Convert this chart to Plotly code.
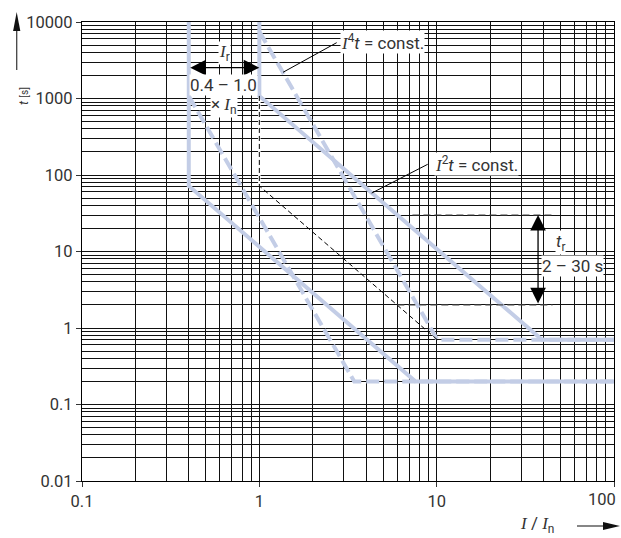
import math
import plotly.graph_objects as go

# ---------------- data ----------------
# Ir = 0.4 x In, I2t characteristic (solid)
left_solid_I = [0.4, 0.4, 7.6, 100]
left_solid_t = [10000, 72, 0.2, 0.2]
# Ir = 0.4 x In, I4t characteristic (dashed)
left_dash_I = [0.4, 3.43, 100]
left_dash_t = [1080, 0.2, 0.2]
# Ir = 1.0 x In, I2t characteristic (solid)
right_solid_I = [1.0, 1.0, 39.3, 100]
right_solid_t = [10000, 1080, 0.7, 0.7]
# Ir = 1.0 x In, I4t characteristic (dashed)
right_dash_I = [1.0, 10.1, 100]
right_dash_t = [7500, 0.7, 0.7]
# thin black reference line (tr = 2 s)
ref_I = [1.0, 1.0, 10.1]
ref_t = [1080, 72, 0.7]
# tr limit lines
tr_upper_I = [7.3, 45]
tr_upper_t = [30, 30]
tr_lower_I = [6.0, 45]
tr_lower_t = [2, 2]
# leader lines for the labels
lead4_I = [1.36, 2.73]
lead4_t = [2200, 5370]
lead2_I = [4.3, 8.9]
lead2_t = [58, 138]
# range arrows
ir_arrow_I = [0.4, 1.0]
ir_arrow_t = 2530
tr_arrow_t = [2, 30]
tr_arrow_I = 37.3

x_tickvals = [0.1, 1, 10, 100]
x_ticktext = ["0.1", "1", "10", ""]   # last label placed right-aligned below
x_last_label = "100"
y_tickvals = [0.01, 0.1, 1, 10, 100, 1000, 10000]
y_ticktext = ["0.01", "0.1", "1", "10", "100", "1000", "10000"]

x_minor = [k * 10 ** d for d in (-1, 0, 1) for k in range(2, 10)]
y_minor = [k * 10 ** d for d in (-2, -1, 0, 1, 2, 3) for k in range(2, 10)]

BLUE = "#c3cde6"
FONT = "Roboto, Liberation Sans, sans-serif"
SERIF_I = '<span style="font-family:Liberation Serif, serif"><i>I</i></span>'

# plot-area geometry (pixels) used only for decorations outside the plot
L, R, T, B = 82, 7, 22, 57
W, H = 621, 538
PW, PH = W - L - R, H - T - B


def px(xp):
    return (xp - L) / PW


def py(yp):
    return (H - B - yp) / PH


fig = go.Figure()


def line(xs, ys, color, width, dash="solid"):
    fig.add_trace(go.Scatter(x=xs, y=ys, mode="lines",
                             line=dict(color=color, width=width, dash=dash),
                             hoverinfo="skip", showlegend=False))


# white halo to hide the gridline under the dashed vertical
line(ref_I[:2], ref_t[:2], "white", 2.5)

line(left_solid_I, left_solid_t, BLUE, 4)
line(left_dash_I, left_dash_t, BLUE, 4, "13px,5px")
line(right_solid_I, right_solid_t, BLUE, 4)
line(right_dash_I, right_dash_t, BLUE, 4, "13px,5px")

line(ref_I, ref_t, "#000000", 1, "5px,3px")
line(tr_upper_I, tr_upper_t, "#444444", 1.2, "7px,4px")
line(tr_lower_I, tr_lower_t, "#444444", 1.2, "7px,4px")
line(lead4_I, lead4_t, "#000000", 1)
line(lead2_I, lead2_t, "#000000", 1)

lg = math.log10
AF = dict(size=17)

annotations = [
    # Ir double arrow
    dict(x=lg(ir_arrow_I[1]), y=lg(ir_arrow_t), ax=lg(ir_arrow_I[0]), ay=lg(ir_arrow_t),
         xref="x", yref="y", axref="x", ayref="y", text="", showarrow=True,
         arrowside="end+start", arrowhead=2, startarrowhead=2, arrowsize=2.4,
         startarrowsize=2.4, arrowwidth=1.3, arrowcolor="#000", standoff=0, startstandoff=0),
    # tr double arrow
    dict(x=lg(tr_arrow_I), y=lg(tr_arrow_t[1]), ax=lg(tr_arrow_I), ay=lg(tr_arrow_t[0]),
         xref="x", yref="y", axref="x", ayref="y", text="", showarrow=True,
         arrowside="end+start", arrowhead=2, startarrowhead=2, arrowsize=2.4,
         startarrowsize=2.4, arrowwidth=1.3, arrowcolor="#000", standoff=0, startstandoff=0),
    # labels
    dict(x=lg(4.94), y=lg(5500), xref="x", yref="y", showarrow=False, font=AF,
         text=SERIF_I + "<sup>4</sup><i>t</i> = const.", bgcolor="white", borderpad=0),
    dict(x=lg(16.85), y=lg(138), xref="x", yref="y", showarrow=False, font=AF,
         text=SERIF_I + "<sup>2</sup><i>t</i> = const.", bgcolor="white", borderpad=0),
    dict(x=lg(0.64), y=lg(3900), xref="x", yref="y", showarrow=False, font=AF,
         text=SERIF_I + "<sub>r</sub>", bgcolor="white", borderpad=0),
    dict(x=lg(0.63), y=lg(1520), xref="x", yref="y", showarrow=False, font=AF,
         text="0.4 \u2013 1.0", bgcolor="white", borderpad=0),
    dict(x=lg(0.63), y=lg(800), xref="x", yref="y", showarrow=False, font=AF,
         text="\u00d7 " + SERIF_I + "<sub>n</sub>", bgcolor="white", borderpad=0),
    dict(x=lg(50.1), y=lg(13.3), xref="x", yref="y", showarrow=False, font=AF,
         text="<i>t</i><sub>r</sub>", bgcolor="white", borderpad=0),
    dict(x=lg(58.6), y=lg(6.45), xref="x", yref="y", showarrow=False, font=AF,
         text="2 \u2013 30 s", bgcolor="white", borderpad=0),
    # last x tick label, kept inside the picture
    dict(x=lg(x_tickvals[-1]), y=py(499), xref="x", yref="paper", xanchor="right",
         yanchor="middle", xshift=4, showarrow=False, text=x_last_label,
         font=dict(size=16.5, color="#333")),
    # axis titles
    dict(x=px(14.5), y=py(85), xref="paper", yref="paper", showarrow=False, textangle=-90,
         text="<i>t</i> <span style=\"font-size:10px\">[s]</span>", font=dict(size=13)),
    dict(x=px(556), y=py(538), xref="paper", yref="paper", yanchor="bottom",
         showarrow=False, font=AF,
         text=SERIF_I + " / " + SERIF_I + "<sub>n</sub>"),
]

# axis arrows (decorations outside the plot area)
shapes = [
    dict(type="line", xref="paper", yref="paper", x0=px(16.7), x1=px(16.7),
         y0=py(70), y1=py(28), line=dict(color="#444", width=1.3)),
    dict(type="path", xref="paper", yref="paper", fillcolor="#111", line=dict(width=0),
         path=f"M {px(16.7)} {py(12)} L {px(20.3)} {py(31)} L {px(13.1)} {py(31)} Z"),
    dict(type="line", xref="paper", yref="paper", x0=px(577), x1=px(606),
         y0=py(526), y1=py(526), line=dict(color="#444", width=1.3)),
    dict(type="path", xref="paper", yref="paper", fillcolor="#111", line=dict(width=0),
         path=f"M {px(620)} {py(526)} L {px(603)} {py(522)} L {px(603)} {py(530)} Z"),
]

axis_common = dict(
    type="log", showgrid=True, gridcolor="#111", gridwidth=1,
    showline=True, linecolor="#000", linewidth=1.2, mirror=True,
    ticks="outside", ticklen=5, tickwidth=1, tickcolor="#333",
    tickmode="array", zeroline=False, automargin=False,
    tickfont=dict(size=16.5, color="#333"),
)

fig.update_layout(
    width=W, height=H,
    margin=dict(l=L, r=R, t=T, b=B),
    paper_bgcolor="white", plot_bgcolor="white",
    font=dict(family=FONT, size=17, color="#333"),
    showlegend=False,
    annotations=annotations,
    shapes=shapes,
    xaxis=dict(axis_common, range=[-1, 2], tickvals=x_tickvals, ticktext=x_ticktext,
               minor=dict(tickmode="array", tickvals=x_minor, showgrid=True,
                          gridcolor="#111", gridwidth=1, ticks="")),
    yaxis=dict(axis_common, range=[-2, 4], tickvals=y_tickvals, ticktext=y_ticktext,
               minor=dict(tickmode="array", tickvals=y_minor, showgrid=True,
                          gridcolor="#111", gridwidth=1, ticks="")),
)

fig.write_html("out.html",
               config={"displayModeBar": False},
               post_script="document.body.style.margin='0';document.body.style.padding='0';")
